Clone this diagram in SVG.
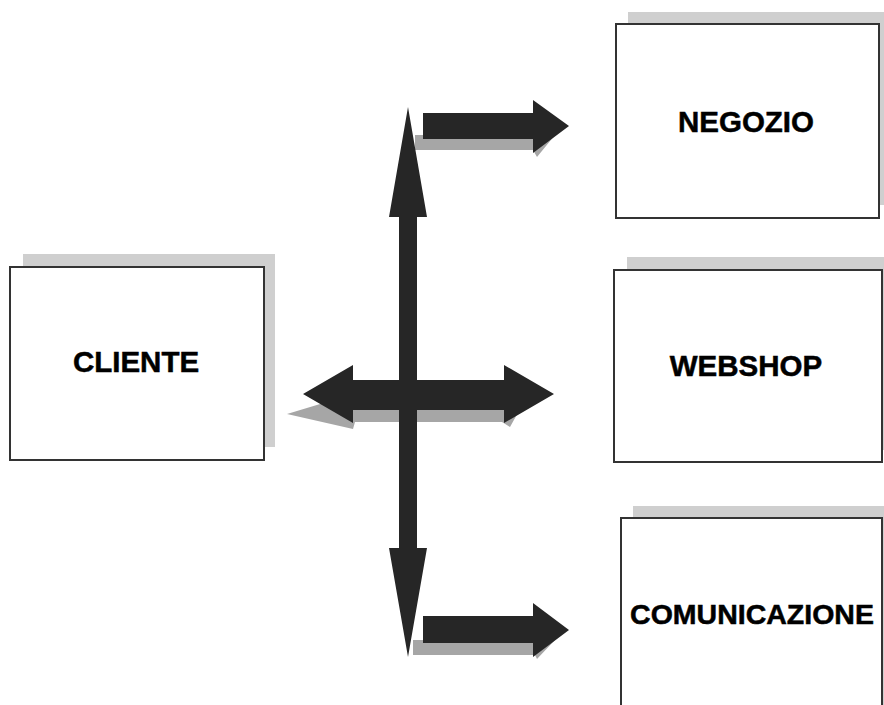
<svg xmlns="http://www.w3.org/2000/svg" width="884" height="705" viewBox="0 0 884 705">
<style>
.shadow{fill:#cfcfcf}
.box{fill:#fff;stroke:#333;stroke-width:2}
.lbl{font-family:"Liberation Sans",Arial,sans-serif;font-weight:bold;font-size:29.5px;fill:#000;stroke:#000;stroke-width:0.5;text-anchor:middle}
.arr{fill:#262626}
.ashadow{fill:#a6a6a6}
</style>
<rect width="884" height="705" fill="#fff"/>
<g id="cliente">
<rect class="shadow" x="23" y="254" width="252" height="193"/>
<rect class="box" x="10" y="267" width="254" height="193"/>
<text class="lbl" x="136" y="372">CLIENTE</text>
</g>
<g id="negozio">
<rect class="shadow" x="628" y="12" width="260" height="193"/>
<rect class="box" x="616" y="24" width="263" height="194"/>
<text class="lbl" x="746" y="132">NEGOZIO</text>
</g>
<g id="webshop">
<rect class="shadow" x="627" y="257" width="265" height="193"/>
<rect class="box" x="614" y="270" width="268" height="192"/>
<text class="lbl" x="746" y="376">WEBSHOP</text>
</g>
<g id="comunicazione">
<rect class="shadow" x="633" y="506" width="262" height="220"/>
<rect class="box" x="621" y="518" width="261" height="210"/>
<text class="lbl" x="752" y="624" style="font-size:28.5px">COMUNICAZIONE</text>
</g>
<g id="connectors">
<polygon class="ashadow" points="415,135 415,150 533,150 537,157 555,135"/>
<polygon class="ashadow" points="413,640 413,655 535,655 537,659 555,640"/>
<polygon class="ashadow" points="287,414 340,398 525,400 510,427 502,422 355,422 353,429"/>
<polygon class="arr" points="408,107 427,217 417,217 417,548 427,548 408,657 389,548 399,548 399,217 389,217"/>
<polygon class="arr" points="303,394 353,365 353,380 504,380 504,365 554,394 504,423 504,410 353,410 353,423"/>
<polygon class="arr" points="423,113 533,113 533,100 569,126 533,153 533,139 423,139"/>
<polygon class="arr" points="423,616 533,616 533,603 569,630 533,657 533,643 423,643"/>
</g>
</svg>
